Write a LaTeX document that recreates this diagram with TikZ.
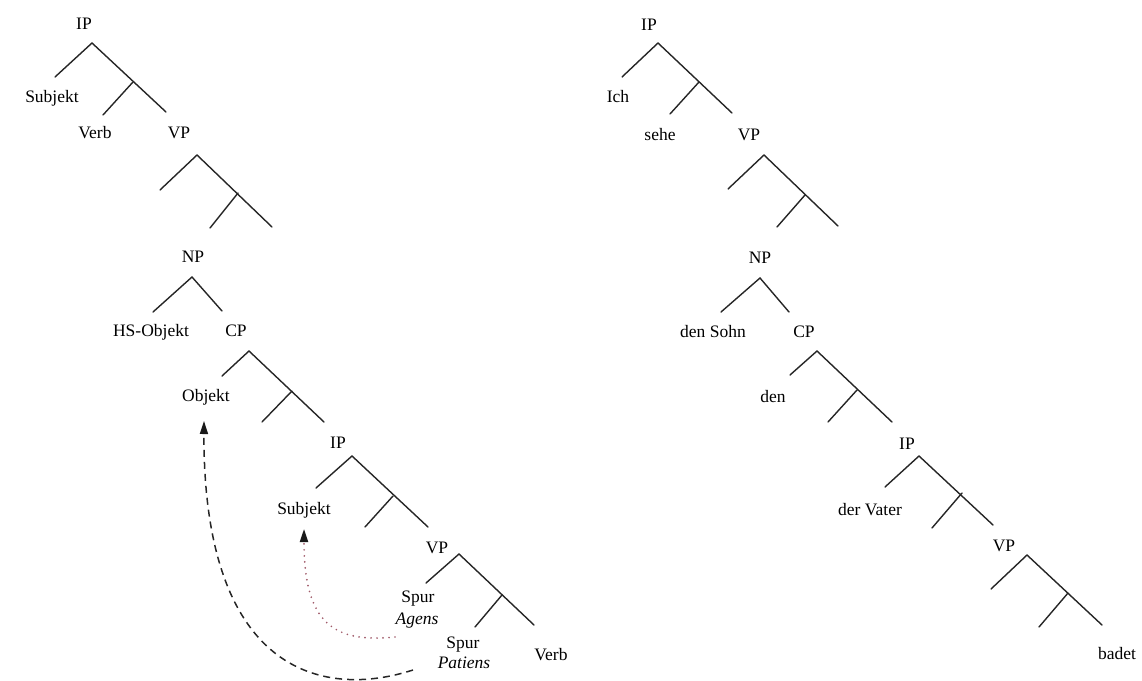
\documentclass[tikz,border=0pt]{standalone}
\usepackage{fontspec}
\setmainfont{Liberation Serif}
\usetikzlibrary{arrows.meta}
\definecolor{trace}{RGB}{160,90,105}
\begin{document}
\begin{tikzpicture}[x=1pt,y=-1pt,
  lbl/.style={anchor=base,inner sep=0pt,text=black,font=\fontsize{17.5}{21}\selectfont},
  branch/.style={line width=1.4pt,draw=black!85,line cap=round},
  movedash/.style={line width=1.5pt,draw=black!85,dash pattern=on 7pt off 5pt,
    -{Triangle[width=8pt,length=13pt,color=black!90]}},
  movedot/.style={line width=1.9pt,draw=trace,line cap=round,dash pattern=on 0pt off 6pt,
    -{Triangle[width=8pt,length=13pt,color=black!90]}}]
\useasboundingbox (0,0) rectangle (1142,680);

% ---------- left tree: labels ----------
\node[lbl] (ipA)    at (84,29)   {IP};
\node[lbl] (subjA)  at (52,102)  {Subjekt};
\node[lbl] (verbA)  at (95,138)  {Verb};
\node[lbl] (vpA)    at (179,138) {VP};
\node[lbl] (npA)    at (193,262) {NP};
\node[lbl] (hsobj)  at (151,336) {HS-Objekt};
\node[lbl] (cpA)    at (236,336) {CP};
\node[lbl] (objekt) at (206,401) {Objekt};
\node[lbl] (ipB)    at (338,448) {IP};
\node[lbl] (subjB)  at (304,514) {Subjekt};
\node[lbl] (vpB)    at (437,553) {VP};
\node[lbl] (spurA)  at (418,602) {Spur};
\node[lbl] (agens)  at (417,624) {\itshape Agens};
\node[lbl] (spurP)  at (463,648) {Spur};
\node[lbl] (patiens) at (464,668) {\itshape Patiens};
\node[lbl] (verbB)  at (551,660) {Verb};

% ---------- left tree: branches ----------
% IP
\coordinate (a1) at (92,43);  \coordinate (l1) at (55,77);   \coordinate (r1) at (166,112);
\coordinate (j1) at (133,82); \coordinate (m1) at (103,115);
% VP
\coordinate (a2) at (197,155); \coordinate (l2) at (160,190); \coordinate (r2) at (272,227);
\coordinate (j2) at (238,193); \coordinate (m2) at (210,228);
% NP
\coordinate (a3) at (192,277); \coordinate (l3) at (153,312); \coordinate (r3) at (222,311);
% CP
\coordinate (a4) at (249,351); \coordinate (l4) at (222,376); \coordinate (r4) at (324,422);
\coordinate (j4) at (292,391); \coordinate (m4) at (262,422);
% IP (relative clause)
\coordinate (a5) at (352,456); \coordinate (l5) at (316,488); \coordinate (r5) at (428,527);
\coordinate (j5) at (393,496); \coordinate (m5) at (365,527);
% VP (relative clause)
\coordinate (a6) at (459,554); \coordinate (l6) at (426,583); \coordinate (r6) at (534,625);
\coordinate (j6) at (502,595); \coordinate (m6) at (475,627);

\foreach \k in {1,2,4,5,6}{
  \draw[branch] (l\k) -- (a\k) -- (r\k);
  \draw[branch] (j\k) -- (m\k);
}
\draw[branch] (l3) -- (a3) -- (r3);

% ---------- movement arrows ----------
\coordinate (dashstart) at (413,670);
\coordinate (dashend)   at (204,421);
\draw[movedash] (dashstart) .. controls (320,700) and (203,670) .. (dashend);
\coordinate (dotstart) at (395,637);
\coordinate (dotend)   at (304,529);
\draw[movedot] (dotstart) .. controls (335,643) and (304,625) .. (dotend);

% ---------- right tree: labels ----------
\node[lbl] (ipC)   at (649,30)   {IP};
\node[lbl] (ich)   at (618,102)  {Ich};
\node[lbl] (sehe)  at (660,140)  {sehe};
\node[lbl] (vpC)   at (749,140)  {VP};
\node[lbl] (npC)   at (760,263)  {NP};
\node[lbl] (sohn)  at (713,337)  {den Sohn};
\node[lbl] (cpC)   at (804,337)  {CP};
\node[lbl] (den)   at (773,402)  {den};
\node[lbl] (ipD)   at (907,449)  {IP};
\node[lbl] (vater) at (870,515)  {der Vater};
\node[lbl] (vpD)   at (1004,551) {VP};
\node[lbl] (badet) at (1117,659) {badet};

% ---------- right tree: branches ----------
\coordinate (b1) at (658,43);  \coordinate (p1) at (622,77);  \coordinate (q1) at (732,113);
\coordinate (k1) at (699,82);  \coordinate (n1) at (670,114);
\coordinate (b2) at (764,155); \coordinate (p2) at (728,189); \coordinate (q2) at (838,226);
\coordinate (k2) at (805,195); \coordinate (n2) at (777,227);
\coordinate (b3) at (760,278); \coordinate (p3) at (721,312); \coordinate (q3) at (789,312);
\coordinate (b4) at (817,351); \coordinate (p4) at (790,375); \coordinate (q4) at (892,422);
\coordinate (k4) at (857,390); \coordinate (n4) at (828,422);
\coordinate (b5) at (919,456); \coordinate (p5) at (885,487); \coordinate (q5) at (993,525);
\coordinate (k5) at (962,493); \coordinate (n5) at (932,528);
\coordinate (b6) at (1027,555); \coordinate (p6) at (991,589); \coordinate (q6) at (1102,625);
\coordinate (k6) at (1068,593); \coordinate (n6) at (1039,627);

\foreach \k in {1,2,4,5,6}{
  \draw[branch] (p\k) -- (b\k) -- (q\k);
  \draw[branch] (k\k) -- (n\k);
}
\draw[branch] (p3) -- (b3) -- (q3);
\end{tikzpicture}
\end{document}
